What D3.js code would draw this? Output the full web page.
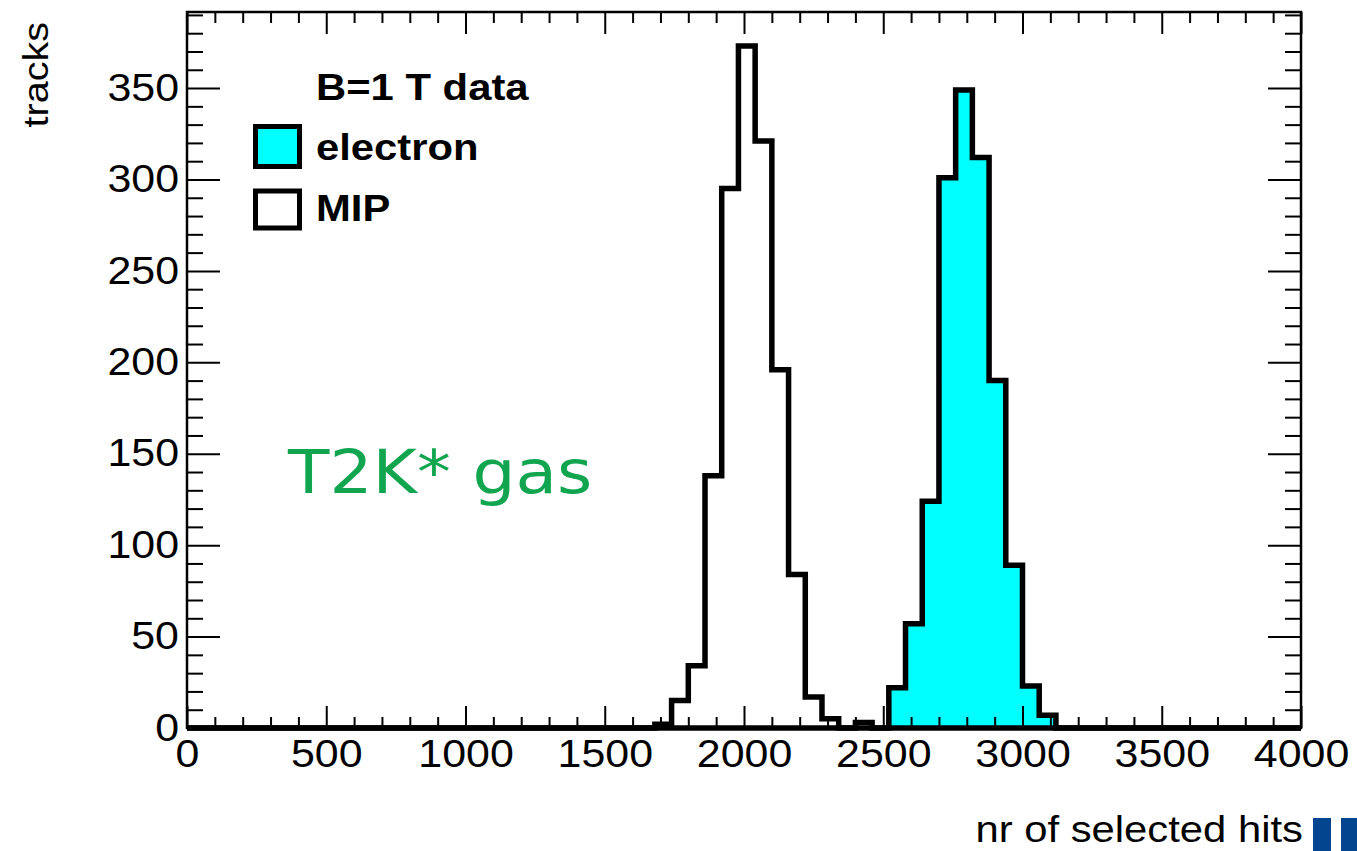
<!DOCTYPE html>
<html>
<head>
<meta charset="utf-8">
<script src="https://cdn.jsdelivr.net/npm/d3@7"></script>
<style>
  body { margin: 0; background: #fff; }
  text { font-family: "Liberation Sans", Arial, Helvetica, sans-serif; }
</style>
</head>
<body>
<div id="chart"></div>
<script>
// data: histogram bins (lower edge, width 60)
const binWidth = 60
const mipEdges = [1680, 1740, 1800, 1860, 1920, 1980, 2040, 2100, 2160, 2220, 2280, 2340, 2400]
const mipCounts = [2, 15, 34, 138, 295, 373, 321, 196, 84, 17, 5, 0, 3]
const electronEdges = [2520, 2580, 2640, 2700, 2760, 2820, 2880, 2940, 3000, 3060]
const electronCounts = [22, 57, 124, 301, 349, 312, 190, 89, 23, 7]
const xTicks = [0, 500, 1000, 1500, 2000, 2500, 3000, 3500, 4000]
const yTicks = [0, 50, 100, 150, 200, 250, 300, 350]
const legendLabels = ['electron', 'MIP']

const dim = { width: 1357, height: 851 }
const frame = { left: 187, right: 1301, top: 12, bottom: 728 }
const stretch = 1.13   // the reference text is a bit wide

const svg = d3.select('#chart')
    .append('svg')
        .attr('width', dim.width)
        .attr('height', dim.height)

// scales
const xScale = d3.scaleLinear()
    .domain([0, 4000])
    .range([frame.left, frame.right])

const yScale = d3.scaleLinear()
    .domain([0, 391.6])
    .range([frame.bottom, frame.top])

// build step points from 0 to 4000
function histPoints(edges, counts) {
    const pts = [[0, 0]]
    edges.forEach((e, i) => pts.push([e, counts[i]]))
    pts.push([edges[edges.length - 1] + binWidth, 0])
    pts.push([4000, 0])
    return pts
}

const line = d3.line()
    .x(d => xScale(d[0]))
    .y(d => yScale(d[1]))
    .curve(d3.curveStepAfter)

const area = d3.area()
    .x(d => xScale(d[0]))
    .y0(yScale(0))
    .y1(d => yScale(d[1]))
    .curve(d3.curveStepAfter)

const electronPts = histPoints(electronEdges, electronCounts)
const mipPts = histPoints(mipEdges, mipCounts)

svg.append('path')
    .attr('d', area(electronPts))
    .attr('fill', '#00ffff')

svg.selectAll('.hist')
    .data([electronPts, mipPts])
    .join('path')
        .attr('class', 'hist')
        .attr('d', d => line(d))
        .attr('fill', 'none')
        .attr('stroke', '#000')
        .attr('stroke-width', 5.5)
        .attr('stroke-linejoin', 'miter')

// axes
const xMinor = d3.range(0, 4001, 100).filter(v => v % 500 !== 0)
const yMinor = d3.range(0, 391, 10).filter(v => v % 50 !== 0)
const fmt = d3.format('d')

function styleAxis(g) {
    g.select('.domain').remove()
    g.selectAll('line').attr('stroke', '#000').attr('stroke-width', 2)
}

svg.append('g')
    .attr('transform', `translate(0,${frame.bottom})`)
    .call(d3.axisBottom(xScale).tickValues(xTicks).tickSize(-22).tickPadding(12).tickFormat(fmt))
    .call(styleAxis)
    .call(g => g.selectAll('text')
        .attr('fill', '#000')
        .style('font-size', '38px')
        .attr('transform', `scale(${stretch},1)`))

svg.append('g')
    .attr('transform', `translate(0,${frame.bottom})`)
    .call(d3.axisBottom(xScale).tickValues(xMinor).tickSize(-11).tickFormat(''))
    .call(styleAxis)

svg.append('g')
    .attr('transform', `translate(0,${frame.top})`)
    .call(d3.axisTop(xScale).tickValues(xTicks).tickSize(-22).tickFormat(''))
    .call(styleAxis)

svg.append('g')
    .attr('transform', `translate(0,${frame.top})`)
    .call(d3.axisTop(xScale).tickValues(xMinor).tickSize(-11).tickFormat(''))
    .call(styleAxis)

svg.append('g')
    .attr('transform', `translate(${frame.left},0)`)
    .call(d3.axisLeft(yScale).tickValues(yTicks).tickSize(-33).tickPadding(8).tickFormat(fmt))
    .call(styleAxis)
    .call(g => g.selectAll('text')
        .attr('fill', '#000')
        .style('font-size', '38px')
        .attr('x', -8 / stretch)
        .attr('transform', `scale(${stretch},1)`))

svg.append('g')
    .attr('transform', `translate(${frame.left},0)`)
    .call(d3.axisLeft(yScale).tickValues(yMinor).tickSize(-16).tickFormat(''))
    .call(styleAxis)

svg.append('g')
    .attr('transform', `translate(${frame.right},0)`)
    .call(d3.axisRight(yScale).tickValues(yTicks).tickSize(-33).tickFormat(''))
    .call(styleAxis)

svg.append('g')
    .attr('transform', `translate(${frame.right},0)`)
    .call(d3.axisRight(yScale).tickValues(yMinor).tickSize(-16).tickFormat(''))
    .call(styleAxis)

// frame
svg.append('rect')
    .attr('x', frame.left)
    .attr('y', frame.top)
    .attr('width', frame.right - frame.left)
    .attr('height', frame.bottom - frame.top)
    .attr('fill', 'none')
    .attr('stroke', '#000')
    .attr('stroke-width', 2.5)

// axis titles
svg.append('text')
    .attr('transform', `translate(1303,842) scale(${stretch},1)`)
    .attr('text-anchor', 'end')
    .style('font-size', '37px')
    .text('nr of selected hits')

svg.append('text')
    .attr('transform', `translate(48,22) rotate(-90) scale(${stretch},1)`)
    .attr('text-anchor', 'end')
    .style('font-size', '35px')
    .text('tracks')

// legend
svg.append('text')
    .attr('transform', `translate(316,100) scale(${stretch},1)`)
    .style('font-size', '37px')
    .style('font-weight', 'bold')
    .text('B=1 T data')

const legend = svg.append('g').attr('class', 'legend')
legend.selectAll('rect')
    .data(legendLabels)
    .join('rect')
        .attr('x', 255.5)
        .attr('y', (d, i) => i === 0 ? 126.5 : 191)
        .attr('width', 44)
        .attr('height', (d, i) => i === 0 ? 40 : 37)
        .attr('fill', (d, i) => i === 0 ? '#00ffff' : '#fff')
        .attr('stroke', '#000')
        .attr('stroke-width', 5)

legend.selectAll('text')
    .data(legendLabels)
    .join('text')
        .attr('transform', (d, i) => `translate(316,${i === 0 ? 160 : 221}) scale(${stretch},1)`)
        .style('font-size', '37px')
        .style('font-weight', 'bold')
        .text(d => d)

// gas label
svg.append('text')
    .attr('transform', `translate(288,493) scale(${stretch},1)`)
    .style('font-family', '"DejaVu Sans", Verdana, sans-serif')
    .style('font-size', '60px')
    .attr('fill', '#10a54e')
    .text('T2K* gas')

// corner logo bars
svg.selectAll('.logo')
    .data([1313, 1341])
    .join('rect')
        .attr('class', 'logo')
        .attr('x', d => d)
        .attr('y', 818)
        .attr('width', 18)
        .attr('height', 33)
        .attr('fill', '#03468f')
</script>
</body>
</html>
